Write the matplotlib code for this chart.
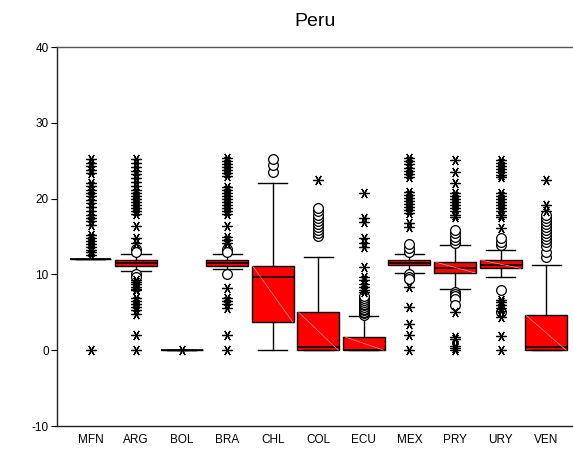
import matplotlib
matplotlib.use("Agg")
import matplotlib.pyplot as plt
import numpy as np

plt.rcParams['font.family'] = ['Liberation Sans', 'DejaVu Sans']
plt.rcParams['axes.unicode_minus'] = False

# box statistics
countries = ["MFN", "ARG", "BOL", "BRA", "CHL", "COL", "ECU", "MEX", "PRY", "URY", "VEN"]
whislo = [12.0, 10.4, 0.0, 10.7, 0.0, 0.0, 0.0, 10.2, 8.1, 9.7, 0.0]
q1 = [12.0, 11.1, 0.0, 11.1, 3.7, 0.0, 0.0, 11.2, 10.2, 10.8, 0.0]
med = [12.0, 11.5, 0.0, 11.5, 9.7, 0.45, 0.0, 11.5, 10.9, 11.2, 0.45]
q3 = [12.0, 11.9, 0.0, 11.9, 11.1, 5.05, 1.8, 11.9, 11.65, 11.9, 4.6]
whishi = [12.0, 12.7, 0.0, 12.7, 22.0, 12.3, 4.5, 12.7, 13.85, 13.2, 11.2]

# near outliers (circles)
near_out = [
    [],
    [13.4, 13.0, 10.0, 9.7],
    [],
    [13.4, 13.0, 10.0],
    [23.5, 24.4, 25.2],
    [15.1, 15.5, 15.9, 16.3, 16.7, 17.1, 17.5, 17.9, 18.3, 18.7],
    [4.7, 4.9, 5.1, 5.3, 5.5, 5.7, 5.9, 6.1, 6.3, 6.6, 6.9, 7.2],
    [13.0, 13.5, 14.0, 10.0, 9.7, 9.4],
    [14.2, 14.6, 15.0, 15.5, 15.9, 7.7, 7.4, 7.1, 6.8, 6.0],
    [13.9, 14.3, 14.8, 8.0, 5.0],
    [12.3, 13.0, 13.7, 14.3, 14.7, 15.1, 15.5, 15.9, 16.3, 16.7, 17.1, 17.5, 17.9],
]

# far outliers (stars)
far_out = [
    [25.2, 24.7, 24.3, 23.8, 23.4, 22.1, 21.7, 21.2, 20.8, 20.3, 19.8, 19.4, 18.9,
     18.4, 17.9, 17.4, 17.0, 16.5, 15.2, 14.8, 14.4, 14.0, 13.6, 13.2, 12.9, 12.5, 0.0],
    [25.2, 24.7, 24.2, 23.7, 23.2, 22.7, 22.2, 21.7, 21.2, 20.8, 20.4, 20.0, 19.6,
     19.2, 18.8, 18.4, 18.0, 16.4, 14.8, 14.2, 9.3, 9.0, 8.7, 8.4, 8.1, 7.9, 6.9,
     6.5, 6.1, 5.7, 5.3, 4.8, 2.0, 0.0],
    [0.0],
    [25.3, 25.0, 24.6, 24.2, 23.8, 23.4, 23.0, 21.5, 21.1, 20.7, 20.3, 19.9, 19.5,
     19.1, 18.7, 18.3, 18.0, 16.4, 15.0, 14.6, 14.2, 8.2, 6.9, 6.5, 6.1, 5.6, 2.0, 0.0],
    [],
    [22.5],
    [7.7, 8.0, 8.4, 8.8, 9.2, 9.7, 11.0, 13.6, 14.2, 14.8, 16.9, 17.4, 20.8],
    [25.3, 24.9, 24.5, 24.1, 23.7, 23.2, 22.8, 20.9, 20.5, 20.1, 19.7, 19.3, 18.9,
     18.5, 18.1, 16.8, 16.3, 8.4, 5.7, 3.5, 2.0, 0.0],
    [25.1, 23.5, 22.1, 20.7, 20.3, 19.9, 19.5, 19.1, 18.7, 18.3, 17.9, 17.6, 5.1,
     1.8, 1.5, 0.6, 0.3, 0.0],
    [25.1, 24.7, 24.3, 23.9, 23.5, 23.1, 22.9, 20.7, 20.3, 19.9, 19.5, 19.1, 18.7,
     18.3, 17.9, 17.6, 16.1, 6.6, 6.3, 6.0, 5.6, 5.2, 4.4, 1.9, 0.0],
    [18.3, 19.1, 22.5],
]

yticks = [-10, 0, 10, 20, 30, 40]

fig = plt.figure(figsize=(5.73, 4.55), dpi=100)
ax = fig.add_axes([0.0995, 0.0637, 0.9005, 0.833])

positions = np.arange(1, len(countries) + 1)
stats = []
for i, name in enumerate(countries):
    stats.append(dict(label=name, whislo=whislo[i], q1=q1[i], med=med[i],
                      q3=q3[i], whishi=whishi[i], fliers=[]))

ax.bxp(stats, positions=positions, widths=0.92, patch_artist=True,
       showfliers=False,
       boxprops=dict(facecolor='#ff0000', edgecolor='black', linewidth=1.0),
       medianprops=dict(color='black', linewidth=1.2),
       whiskerprops=dict(color='black', linewidth=1.0),
       capprops=dict(color='black', linewidth=1.0),
       capwidths=0.64, zorder=2)

# faint diagonal inside each box
for i, p in enumerate(positions):
    if q3[i] - q1[i] > 1:
        ax.plot([p - 0.44, p + 0.44], [q3[i], q1[i]], color='#ff9a9a',
                linewidth=0.5, zorder=3)

for i, p in enumerate(positions):
    if near_out[i]:
        ax.plot([p] * len(near_out[i]), near_out[i], linestyle='none',
                marker='o', markersize=7, markerfacecolor='white',
                markeredgecolor='black', markeredgewidth=0.9, zorder=4)
    if far_out[i]:
        ax.plot([p] * len(far_out[i]), far_out[i], linestyle='none',
                marker=(6, 2, 90), markersize=7.5, color='black',
                markeredgewidth=0.9, zorder=4)

ax.set_xlim(0.265, 11.59)
ax.set_ylim(-10, 40)
ax.set_yticks(yticks)
ax.set_xticks(positions)
ax.set_xticklabels(countries)
ax.tick_params(axis='x', length=0, labelsize=8.5, pad=6)
ax.tick_params(axis='y', length=4, labelsize=8.5, pad=2, direction='out')

ax.spines['right'].set_visible(False)
for s in ['left', 'bottom']:
    ax.spines[s].set_color('#222222')
    ax.spines[s].set_linewidth(1.0)
ax.spines['top'].set_color('#555555')
ax.spines['top'].set_linewidth(1.0)

ax.set_title("Peru", fontsize=14, pad=15)

fig.savefig("out.png", dpi=100)
